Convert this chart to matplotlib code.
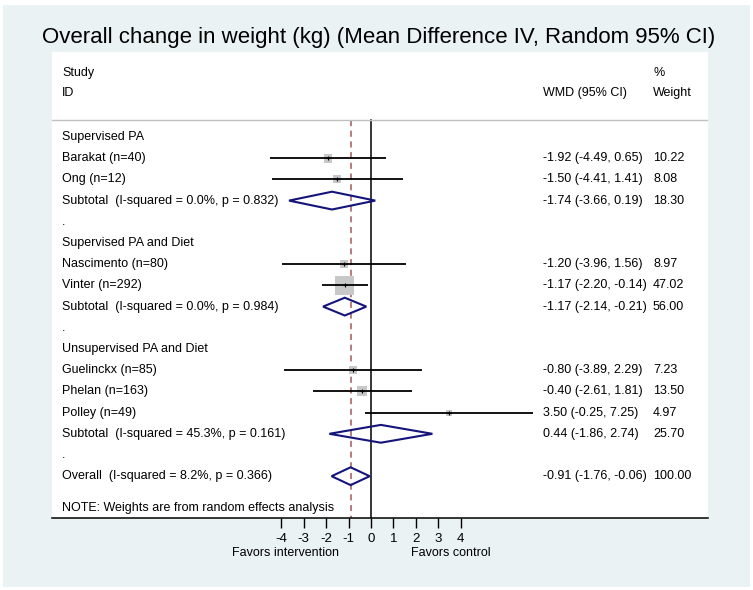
import matplotlib
matplotlib.use("Agg")
import matplotlib.pyplot as plt
import matplotlib.transforms as mtransforms
from matplotlib.patches import Rectangle, Polygon

plt.rcParams['font.family'] = ['Liberation Sans', 'DejaVu Sans']

# ---------------- data ----------------
groups = ["Supervised PA", "Supervised PA and Diet", "Unsupervised PA and Diet"]
studies = [["Barakat (n=40)", "Ong (n=12)"],
           ["Nascimento (n=80)", "Vinter (n=292)"],
           ["Guelinckx (n=85)", "Phelan (n=163)", "Polley (n=49)"]]
est = [[-1.92, -1.50], [-1.20, -1.17], [-0.80, -0.40, 3.50]]
lo = [[-4.49, -4.41], [-3.96, -2.20], [-3.89, -2.61, -0.25]]
hi = [[0.65, 1.41], [1.56, -0.14], [2.29, 1.81, 7.25]]
weights = [[10.22, 8.08], [8.97, 47.02], [7.23, 13.50, 4.97]]

sub_est = [-1.74, -1.17, 0.44]
sub_lo = [-3.66, -2.14, -1.86]
sub_hi = [0.19, -0.21, 2.74]
sub_w = [18.30, 56.00, 25.70]
sub_i2 = [0.0, 0.0, 45.3]
sub_p = [0.832, 0.984, 0.161]

overall = (-0.91, -1.76, -0.06, 100.00)
overall_i2, overall_p = 8.2, 0.366

xticks = [-4, -3, -2, -1, 0, 1, 2, 3, 4]
title = "Overall change in weight (kg) (Mean Difference IV, Random 95% CI)"

# ---------------- layout ----------------
W, H = 753, 590
fig = plt.figure(figsize=(W / 100, H / 100), dpi=100)
fig.patch.set_facecolor("white")
bg = Rectangle((3 / W, 3 / H), (750 - 3) / W, (587 - 5) / H, transform=fig.transFigure,
               facecolor="#eaf2f3", edgecolor="none", zorder=-10)
fig.patches.append(bg)

left_px, right_px, top_px, bot_px = 52, 708, 52, 518
ax = fig.add_axes([left_px / W, 1 - bot_px / H, (right_px - left_px) / W, (bot_px - top_px) / H])
ax.set_facecolor("white")
ax.set_zorder(5)

x0_px, unit_px = 371, 22.4
row0_px, row_px = 137, 21.2
ax.set_xlim((left_px - x0_px) / unit_px, (right_px - x0_px) / unit_px)
ax.set_ylim((bot_px - row0_px) / row_px, (top_px - row0_px) / row_px)

for s in ["top", "left", "right"]:
    ax.spines[s].set_visible(False)
ax.spines["bottom"].set_linewidth(1.1)
ax.set_yticks([])
ax.set_xticks(xticks)
ax.set_xticklabels([str(t) for t in xticks], fontsize=9.5)
ax.tick_params(axis="x", length=7, width=1.0, pad=3.5, direction="out")

fs = 9.0
name_x = (62 - x0_px) / unit_px
wmd_x = (543 - x0_px) / unit_px
wt_x = (653 - x0_px) / unit_px

# header
ax.text(name_x, (73 - row0_px) / row_px, "Study", fontsize=fs, va="center")
ax.text(name_x, (93 - row0_px) / row_px, "ID", fontsize=fs, va="center")
ax.text(wmd_x, (93 - row0_px) / row_px, "WMD (95% CI)", fontsize=fs, va="center")
ax.text(wt_x, (73 - row0_px) / row_px, "%", fontsize=fs, va="center")
ax.text(wt_x, (93 - row0_px) / row_px, "Weight", fontsize=fs, va="center")
sep_y = (120 - row0_px) / row_px
ax.axhline(sep_y, color="#c0c0c0", lw=1.0)

ci_col = "black"
dia_col = "#14147a"
half_h = 0.42

def fmt(e, l, h):
    return f"{e:.2f} ({l:.2f}, {h:.2f})"

def diamond(e, l, h, y):
    poly = Polygon([(l, y), (e, y - half_h), (h, y), (e, y + half_h)], closed=True,
                   fill=False, edgecolor=dia_col, lw=1.5, zorder=4)
    ax.add_patch(poly)

row = 0
for g in range(len(groups)):
    ax.text(name_x, row, groups[g], fontsize=fs, va="center")
    row += 1
    for i in range(len(studies[g])):
        e, l, h, w = est[g][i], lo[g][i], hi[g][i], weights[g][i]
        ax.text(name_x, row, studies[g][i], fontsize=fs, va="center")
        side_px = 19 * (w / 47.02) ** 0.5
        ax.scatter([e], [row], marker="s", s=(side_px * 0.72) ** 2, color="#c8c8c8",
                   edgecolors="none", zorder=2)
        ax.plot([l, h], [row, row], color=ci_col, lw=1.3, zorder=3, solid_capstyle="butt")
        ax.plot([e], [row], marker="+", color="black", ms=3, mew=0.8, zorder=4)
        ax.text(wmd_x, row, fmt(e, l, h), fontsize=fs, va="center")
        ax.text(wt_x, row, f"{w:.2f}", fontsize=fs, va="center")
        row += 1
    ax.text(name_x, row, f"Subtotal  (I-squared = {sub_i2[g]:.1f}%, p = {sub_p[g]:.3f})",
            fontsize=fs, va="center")
    diamond(sub_est[g], sub_lo[g], sub_hi[g], row)
    ax.text(wmd_x, row, fmt(sub_est[g], sub_lo[g], sub_hi[g]), fontsize=fs, va="center")
    ax.text(wt_x, row, f"{sub_w[g]:.2f}", fontsize=fs, va="center")
    row += 1
    ax.text(name_x, row, ".", fontsize=fs, va="center")
    row += 1

oe, ol, oh, ow = overall
ax.text(name_x, row, f"Overall  (I-squared = {overall_i2:.1f}%, p = {overall_p:.3f})",
        fontsize=fs, va="center")
diamond(oe, ol, oh, row)
ax.text(wmd_x, row, fmt(oe, ol, oh), fontsize=fs, va="center")
ax.text(wt_x, row, f"{ow:.2f}", fontsize=fs, va="center")
row += 1.5
ax.text(name_x, row, "NOTE: Weights are from random effects analysis", fontsize=fs, va="center")

# reference lines
ax.plot([0, 0], [sep_y, ax.get_ylim()[0]], color="black", lw=1.1, zorder=1)
ax.plot([oe, oe], [sep_y, ax.get_ylim()[0]], color="#a05a5a", lw=1.1, ls=(0, (4, 3)), zorder=1)

# favors labels
trans = mtransforms.blended_transform_factory(ax.transData, fig.transFigure)
ax.text((285 - x0_px) / unit_px, 1 - 553 / H, "Favors intervention", fontsize=9.0,
        ha="center", va="center", transform=trans)
ax.text((450.5 - x0_px) / unit_px, 1 - 553 / H, "Favors control", fontsize=9.0,
        ha="center", va="center", transform=trans)

fig.text(379 / W, 1 - 37 / H, title, fontsize=16, ha="center", va="center")

fig.savefig("out.png", dpi=100)
